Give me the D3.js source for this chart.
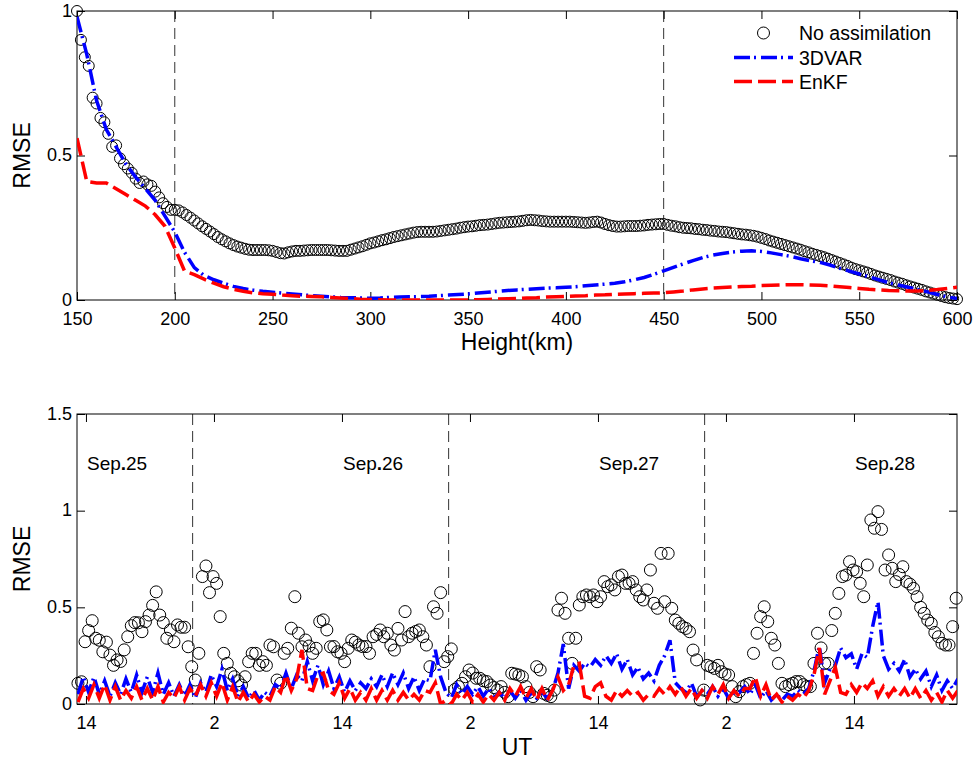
<!DOCTYPE html>
<html>
<head>
<meta charset="utf-8">
<script src="https://d3js.org/d3.v7.min.js"></script>
<style>
  body { margin: 0; background: #fff; }
  svg { display: block; font-family: "Liberation Sans", Arial, Helvetica, sans-serif; }
</style>
</head>
<body>
<script>
// ---------- top panel: RMSE against height ----------
var circleHeights = d3.range(150, 601, 2);
var noAssimByHeight = [
    1.00, 0.90, 0.84, 0.81, 0.70, 0.68, 0.63, 0.615, 0.575, 0.53,
    0.535, 0.49, 0.47, 0.455, 0.44, 0.42, 0.405, 0.41, 0.40, 0.395,
    0.375, 0.355, 0.335, 0.322, 0.312, 0.312, 0.31, 0.303, 0.294, 0.285,
    0.275, 0.265, 0.255, 0.246, 0.237, 0.228, 0.218, 0.21, 0.203, 0.196,
    0.19, 0.185, 0.181, 0.177, 0.174, 0.173, 0.173, 0.173, 0.173, 0.172,
    0.17, 0.166, 0.162, 0.161, 0.165, 0.168, 0.17, 0.17, 0.171, 0.172,
    0.173, 0.173, 0.173, 0.173, 0.173, 0.172, 0.171, 0.17, 0.17, 0.17,
    0.174, 0.178, 0.182, 0.186, 0.191, 0.196, 0.199, 0.203, 0.207, 0.21,
    0.214, 0.218, 0.221, 0.224, 0.227, 0.23, 0.233, 0.235, 0.236, 0.236,
    0.236, 0.236, 0.237, 0.239, 0.241, 0.243, 0.245, 0.247, 0.25, 0.252,
    0.254, 0.255, 0.257, 0.259, 0.26, 0.261, 0.263, 0.265, 0.267, 0.268,
    0.269, 0.27, 0.271, 0.272, 0.274, 0.276, 0.277, 0.276, 0.275, 0.273,
    0.272, 0.271, 0.271, 0.271, 0.271, 0.271, 0.271, 0.27, 0.269, 0.268,
    0.267, 0.268, 0.27, 0.271, 0.268, 0.263, 0.259, 0.256, 0.254, 0.254,
    0.255, 0.256, 0.256, 0.256, 0.257, 0.258, 0.26, 0.261, 0.262, 0.263,
    0.263, 0.26, 0.257, 0.255, 0.252, 0.25, 0.249, 0.248, 0.246, 0.245,
    0.243, 0.242, 0.24, 0.239, 0.237, 0.236, 0.235, 0.233, 0.231, 0.229,
    0.227, 0.226, 0.224, 0.222, 0.219, 0.215, 0.211, 0.206, 0.202, 0.198,
    0.194, 0.19, 0.186, 0.182, 0.178, 0.174, 0.169, 0.165, 0.16, 0.156,
    0.152, 0.148, 0.143, 0.138, 0.133, 0.128, 0.123, 0.118, 0.112, 0.107,
    0.103, 0.099, 0.095, 0.09, 0.085, 0.081, 0.077, 0.073, 0.069, 0.064,
    0.06, 0.056, 0.051, 0.047, 0.043, 0.039, 0.035, 0.03, 0.026, 0.022,
    0.018, 0.014, 0.01, 0.007, 0.005, 0.003
];

var lineHeights = d3.range(150, 601, 5);
var var3dByHeight = [
    0.98, 0.85, 0.69, 0.59, 0.53, 0.47, 0.425, 0.385, 0.345, 0.29,
    0.235, 0.165, 0.112, 0.085, 0.07, 0.058, 0.047, 0.04, 0.034, 0.03,
    0.027, 0.024, 0.021, 0.018, 0.015, 0.013, 0.011, 0.009, 0.008, 0.007,
    0.006, 0.007, 0.009, 0.01, 0.011, 0.012, 0.013, 0.015, 0.017, 0.019,
    0.021, 0.024, 0.027, 0.03, 0.033, 0.035, 0.037, 0.039, 0.041, 0.042,
    0.044, 0.046, 0.049, 0.052, 0.055, 0.058, 0.063, 0.07, 0.078, 0.089,
    0.101, 0.113, 0.125, 0.136, 0.147, 0.155, 0.161, 0.166, 0.169, 0.17,
    0.168, 0.163, 0.157, 0.151, 0.143, 0.136, 0.13, 0.121, 0.11, 0.1,
    0.09, 0.08, 0.07, 0.06, 0.052, 0.044, 0.036, 0.028, 0.019, 0.011,
    0.005
];
var enkfByHeight = [
    0.56, 0.41, 0.405, 0.405, 0.385, 0.365, 0.345, 0.325, 0.295, 0.255,
    0.18, 0.1, 0.088, 0.072, 0.058, 0.046, 0.037, 0.03, 0.025, 0.022,
    0.02, 0.017, 0.015, 0.013, 0.012, 0.011, 0.009, 0.007, 0.005, 0.003,
    0.002, 0.001, 0.0, 0.0, 0.0, 0.0, 0.0, 0.0, 0.0, 0.0,
    0.0, 0.001, 0.002, 0.003, 0.004, 0.005, 0.007, 0.008, 0.01, 0.011,
    0.012, 0.014, 0.015, 0.017, 0.018, 0.02, 0.021, 0.022, 0.023, 0.024,
    0.025, 0.028, 0.031, 0.035, 0.038, 0.041, 0.043, 0.045, 0.047, 0.048,
    0.05, 0.051, 0.052, 0.053, 0.053, 0.052, 0.051, 0.049, 0.046, 0.043,
    0.04, 0.037, 0.035, 0.033, 0.032, 0.031, 0.031, 0.033, 0.036, 0.04,
    0.044
];
var heightTicks = [150, 200, 250, 300, 350, 400, 450, 500, 550, 600];
var heightMarkers = [200, 450];

// ---------- bottom panel: RMSE against UT ----------
// hours counted on from 0 UT of the day before the Sep.25 block
// observations without assimilation every 20 minutes
var utHours = d3.range(248).map(function(i) { return 13.25 + i / 3; });
var noAssimByTime = [
    0.107, 0.115, 0.322,  0.38, 0.431, 0.34,  0.33, 0.27, 0.32,  0.253, 0.2, 0.228,
    0.22, 0.28, 0.348,  0.405, 0.421, 0.42,  0.374, 0.426, 0.46,  0.51, 0.58, 0.46,
    0.421, 0.34, 0.383,  0.322, 0.409, 0.397,  0.397, 0.296, 0.193,  0.124, 0.262, 0.659,
    0.714, 0.576, 0.659,  0.624, 0.452, 0.262,  0.21, 0.159, 0.141,  0.12, 0.098, 0.141,
    0.219, 0.262, 0.262,  0.2, 0.219, 0.2,  0.305, 0.296, 0.124,  0.107, 0.262, 0.288,
    0.392, 0.555, 0.366,  0.296, 0.331, 0.3,  0.262, 0.288, 0.426,  0.435, 0.383, 0.296,
    0.297, 0.27, 0.262,  0.219, 0.288, 0.331,  0.32, 0.305, 0.297,  0.297, 0.262, 0.348,
    0.36, 0.383, 0.348,  0.366, 0.305, 0.279,  0.391, 0.331, 0.478,  0.348, 0.366, 0.375,
    0.383, 0.348, 0.305,  0.193, 0.503, 0.469,  0.576, 0.219, 0.245,  0.285, 0.075, 0.09,
    0.107, 0.141, 0.176,  0.16, 0.133, 0.133,  0.12, 0.116, 0.098,  0.085, 0.072, 0.09,
    0.06, 0.038, 0.159,  0.155, 0.15, 0.141,  0.09, 0.06, 0.038,  0.193, 0.176, 0.055,
    0.045, 0.038, 0.072,  0.486, 0.547, 0.469,  0.34, 0.21, 0.34,  0.512, 0.555, 0.564,
    0.555, 0.564, 0.529,  0.555, 0.633, 0.607,  0.616, 0.59, 0.659,  0.667, 0.624, 0.624,
    0.633, 0.59, 0.555,  0.538, 0.59, 0.693,  0.521, 0.495, 0.779,  0.529, 0.779, 0.495,
    0.434, 0.417, 0.4,  0.391, 0.374, 0.279,  0.228, 0.021, 0.072,  0.2, 0.193, 0.184,
    0.2, 0.167, 0.155,  0.15, 0.09, 0.038,  0.064, 0.09, 0.1,  0.107, 0.262, 0.366,
    0.452, 0.503, 0.426,  0.34, 0.305, 0.21,  0.107, 0.09, 0.1,  0.107, 0.116, 0.116,
    0.1, 0.09, 0.09,  0.21, 0.366, 0.29,  0.21, 0.21, 0.38,  0.469, 0.572, 0.659,
    0.667, 0.736, 0.693,  0.684, 0.624, 0.555,  0.719, 0.952, 0.909,  0.995, 0.903, 0.693,
    0.771, 0.702, 0.633,  0.67, 0.71, 0.633,  0.62, 0.598, 0.555,  0.5, 0.469, 0.434,
    0.417, 0.37, 0.348,  0.314, 0.305, 0.305,  0.4, 0.547
];

// assimilation runs every 30 minutes
var runHours = d3.range(166).map(function(i) { return 13.25 + i / 2; });
var var3dByTime = [
    0.05, 0.14,  0.06, 0.14,  0.05, 0.12,  0.04, 0.11,  0.05, 0.13,  0.06, 0.15,
    0.06, 0.14,  0.06, 0.16,  0.05, 0.11,  0.04, 0.1,  0.04, 0.1,  0.03, 0.11,
    0.06, 0.15,  0.09, 0.18,  0.07, 0.13,  0.04, 0.09,  0.03, 0.07,  0.02, 0.06,
    0.04, 0.1,  0.08, 0.16,  0.08, 0.15,  0.12, 0.22,  0.12, 0.2,  0.1, 0.17,
    0.08, 0.14,  0.06, 0.12,  0.07, 0.11,  0.08, 0.13,  0.09, 0.15,  0.09, 0.16,
    0.1, 0.16,  0.08, 0.14,  0.07, 0.13,  0.12, 0.28,  0.14, 0.06,  0.03, 0.1,
    0.05, 0.09,  0.05, 0.09,  0.04, 0.08,  0.03, 0.06,  0.03, 0.07,  0.03, 0.07,
    0.02, 0.06,  0.03, 0.06,  0.03, 0.07,  0.16, 0.31,  0.08, 0.2,  0.17, 0.21,
    0.19, 0.23,  0.2, 0.25,  0.21, 0.26,  0.18, 0.23,  0.15, 0.19,  0.13, 0.16,
    0.12, 0.2,  0.25, 0.33,  0.11, 0.08,  0.06, 0.11,  0.04, 0.07,  0.05, 0.09,
    0.04, 0.08,  0.03, 0.06,  0.06, 0.09,  0.05, 0.1,  0.03, 0.07,  0.02, 0.05,
    0.02, 0.05,  0.04, 0.07,  0.05, 0.08,  0.17, 0.3,  0.11, 0.18,  0.2, 0.29,
    0.24, 0.26,  0.18, 0.26,  0.24, 0.4,  0.53, 0.25,  0.18, 0.21,  0.17, 0.23,
    0.14, 0.18,  0.13, 0.17,  0.09, 0.15,  0.07, 0.12,  0.08, 0.13
];
var enkfByTime = [
    0.01, 0.08,  0.03, 0.1,  0.03, 0.1,  0.02, 0.09,  0.02, 0.07,  0.03, 0.09,
    0.02, 0.08,  0.02, 0.09,  0.01, 0.06,  0.03, 0.09,  0.02, 0.08,  0.04, 0.1,
    0.04, 0.11,  0.04, 0.11,  0.02, 0.09,  0.01, 0.06,  0.01, 0.05,  0.01, 0.04,
    0.02, 0.09,  0.06, 0.15,  0.07, 0.13,  0.28, 0.08,  0.07, 0.15,  0.16, 0.07,
    0.05, 0.11,  0.03, 0.08,  0.02, 0.06,  0.02, 0.08,  0.02, 0.07,  0.02, 0.07,
    0.02, 0.06,  0.02, 0.05,  0.02, 0.07,  0.06, 0.11,  0.0, 0.02,  0.0, 0.05,
    0.02, 0.06,  0.01, 0.05,  0.01, 0.05,  0.02, 0.06,  0.02, 0.08,  0.04, 0.09,
    0.03, 0.08,  0.02, 0.08,  0.02, 0.07,  0.14, 0.07,  0.1, 0.2,  0.21, 0.04,
    0.03, 0.09,  0.11, 0.04,  0.02, 0.07,  0.04, 0.07,  0.04, 0.06,  0.02, 0.05,
    0.04, 0.08,  0.05, 0.09,  0.05, 0.09,  0.04, 0.08,  0.03, 0.07,  0.03, 0.09,
    0.05, 0.1,  0.03, 0.07,  0.04, 0.08,  0.08, 0.14,  0.04, 0.1,  0.02, 0.05,
    0.01, 0.04,  0.02, 0.05,  0.03, 0.07,  0.15, 0.29,  0.05, 0.12,  0.19, 0.06,
    0.05, 0.1,  0.06, 0.11,  0.08, 0.12,  0.04, 0.09,  0.04, 0.08,  0.04, 0.08,
    0.03, 0.08,  0.03, 0.07,  0.02, 0.06,  0.01, 0.07,  0.03, 0.07
];
var utTicks = [14, 26, 38, 50, 62, 74, 86];
var midnights = [24, 48, 72];
var dayLabels = ["Sep.25", "Sep.26", "Sep.27", "Sep.28"];
var dayLabelHours = [14, 38, 62, 86];

var seriesNames = ["No assimilation", "3DVAR", "EnKF"];

// ---------- shared drawing ----------
var svg = d3.select("body")
    .append("svg")
    .attr("width", 974)
    .attr("height", 759);

var blueDash = "16,4,2,5",
    redDash = "18,6";

function drawPanel(p) {
    var g = svg.append("g")
        .attr("transform", "translate(" + p.left + "," + p.top + ")");

    var x = d3.scaleLinear().domain(p.xDomain).range([0, p.width]);
    var y = d3.scaleLinear().domain(p.yDomain).range([p.height, 0]);

    g.append("clipPath")
        .attr("id", p.id + "-clip")
        .append("rect")
        .attr("width", p.width)
        .attr("height", p.height);

    // dashed vertical markers
    g.selectAll(".marker")
        .data(p.markers)
        .enter()
        .append("line")
        .attr("class", "marker")
        .attr("x1", function(d) { return x(d); })
        .attr("x2", function(d) { return x(d); })
        .attr("y1", 0)
        .attr("y2", p.height)
        .attr("stroke", "#333")
        .attr("stroke-width", 1)
        .attr("stroke-dasharray", "11,6");

    // axes with inward ticks on all four sides
    var xAxis = d3.axisBottom(x)
        .tickValues(p.xTicks)
        .tickFormat(p.xFormat)
        .tickSizeInner(-8)
        .tickSizeOuter(0)
        .tickPadding(12);
    var yAxis = d3.axisLeft(y)
        .tickValues(p.yTicks)
        .tickFormat(d3.format("~g"))
        .tickSizeInner(-8)
        .tickSizeOuter(0)
        .tickPadding(5);

    var gx = g.append("g")
        .attr("transform", "translate(0," + p.height + ")")
        .call(xAxis);
    var gy = g.append("g").call(yAxis);

    g.append("g")
        .call(d3.axisTop(x).tickValues(p.xTicks).tickFormat("").tickSizeInner(-8).tickSizeOuter(0));
    g.append("g")
        .attr("transform", "translate(" + p.width + ",0)")
        .call(d3.axisRight(y).tickValues(p.yTicks).tickFormat("").tickSizeInner(-8).tickSizeOuter(0));

    g.selectAll(".domain").remove();
    g.selectAll(".tick line").attr("stroke", "#000");
    [gx, gy].forEach(function(a) {
        a.attr("font-family", null).attr("font-size", null)
            .selectAll("text")
            .attr("fill", "#000")
            .style("font-size", "18px");
    });
    // lift the y labels a touch so the bottom one clears the x labels
    gy.selectAll("text").attr("dy", "0.28em");

    // box around the axes
    g.append("rect")
        .attr("width", p.width)
        .attr("height", p.height)
        .attr("fill", "none")
        .attr("stroke", "#000")
        .attr("stroke-width", 1);

    // axis labels
    g.append("text")
        .attr("transform", "rotate(-90)")
        .attr("x", -p.height / 2)
        .attr("y", -p.left + 30)
        .attr("text-anchor", "middle")
        .style("font-size", "23px")
        .text("RMSE");

    g.append("text")
        .attr("x", p.width / 2)
        .attr("y", p.height + p.xLabelOffset)
        .attr("text-anchor", "middle")
        .style("font-size", "23px")
        .text(p.xLabel);

    return { g: g, x: x, y: y };
}

function pairUp(xs, vals) {
    return vals.map(function(v, i) { return [xs[i], v]; });
}

function drawSeries(panel, circles, blue, red, clipId, radius) {
    panel.g.append("g")
        .selectAll("circle")
        .data(circles)
        .enter()
        .append("circle")
        .attr("cx", function(d) { return panel.x(d[0]); })
        .attr("cy", function(d) { return panel.y(d[1]); })
        .attr("r", radius)
        .attr("fill", "none")
        .attr("stroke", "#000")
        .attr("stroke-width", 1);

    var line = d3.line()
        .x(function(d) { return panel.x(d[0]); })
        .y(function(d) { return panel.y(d[1]); });

    var lines = panel.g.append("g").attr("clip-path", "url(#" + clipId + ")");

    lines.append("path")
        .datum(blue)
        .attr("d", line)
        .attr("fill", "none")
        .attr("stroke", "#0000ff")
        .attr("stroke-width", 3.5)
        .attr("stroke-dasharray", blueDash);

    lines.append("path")
        .datum(red)
        .attr("d", line)
        .attr("fill", "none")
        .attr("stroke", "#ff0000")
        .attr("stroke-width", 3.5)
        .attr("stroke-dasharray", redDash);
}

// ---------- top panel ----------
var heightPanel = drawPanel({
    id: "height", left: 77, top: 11, width: 880, height: 289,
    xDomain: [150, 600], yDomain: [0, 1],
    xTicks: heightTicks, yTicks: [0, 0.5, 1],
    xFormat: d3.format("d"),
    markers: heightMarkers,
    xLabel: "Height(km)", xLabelOffset: 50
});

drawSeries(heightPanel,
    pairUp(circleHeights, noAssimByHeight),
    pairUp(lineHeights, var3dByHeight),
    pairUp(lineHeights, enkfByHeight),
    "height-clip", 5.5);

// legend, no frame
var legend = heightPanel.g.append("g").attr("transform", "translate(" + (734 - 77) + "," + (33 - 11) + ")");
var legendRows = legend.selectAll("g")
    .data(seriesNames)
    .enter()
    .append("g")
    .attr("transform", function(d, i) { return "translate(0," + [0, 24.5, 48.5][i] + ")"; });

legendRows.filter(function(d, i) { return i === 0; })
    .append("circle")
    .attr("cx", 29.5)
    .attr("r", 6)
    .attr("fill", "none")
    .attr("stroke", "#000");
legendRows.filter(function(d, i) { return i > 0; })
    .append("line")
    .attr("x1", 0)
    .attr("x2", 59)
    .attr("stroke", function(d, i) { return i === 0 ? "#0000ff" : "#ff0000"; })
    .attr("stroke-width", 3.5)
    .attr("stroke-dasharray", function(d, i) { return i === 0 ? blueDash : redDash; });
legendRows.append("text")
    .attr("x", 65)
    .attr("dy", "0.36em")
    .style("font-size", "19.5px")
    .text(function(d) { return d; });

// ---------- bottom panel ----------
var timePanel = drawPanel({
    id: "time", left: 77, top: 414, width: 880, height: 290,
    xDomain: [13.16, 95.66], yDomain: [0, 1.5],
    xTicks: utTicks, yTicks: [0, 0.5, 1, 1.5],
    xFormat: function(d) { return d % 24; },
    markers: midnights,
    xLabel: "UT", xLabelOffset: 51
});

drawSeries(timePanel,
    pairUp(utHours, noAssimByTime),
    pairUp(runHours, var3dByTime),
    pairUp(runHours, enkfByTime),
    "time-clip", 6);

// day names, the dot drawn heavier
var days = timePanel.g.selectAll(".day")
    .data(dayLabels)
    .enter()
    .append("text")
    .attr("class", "day")
    .attr("x", function(d, i) { return timePanel.x(dayLabelHours[i]) + 1; })
    .attr("y", 56)
    .style("font-size", "19px");
days.append("tspan").text(function(d) { return d.split(".")[0]; });
days.append("tspan").style("font-weight", "bold").text(".");
days.append("tspan").text(function(d) { return d.split(".")[1]; });
</script>
</body>
</html>
